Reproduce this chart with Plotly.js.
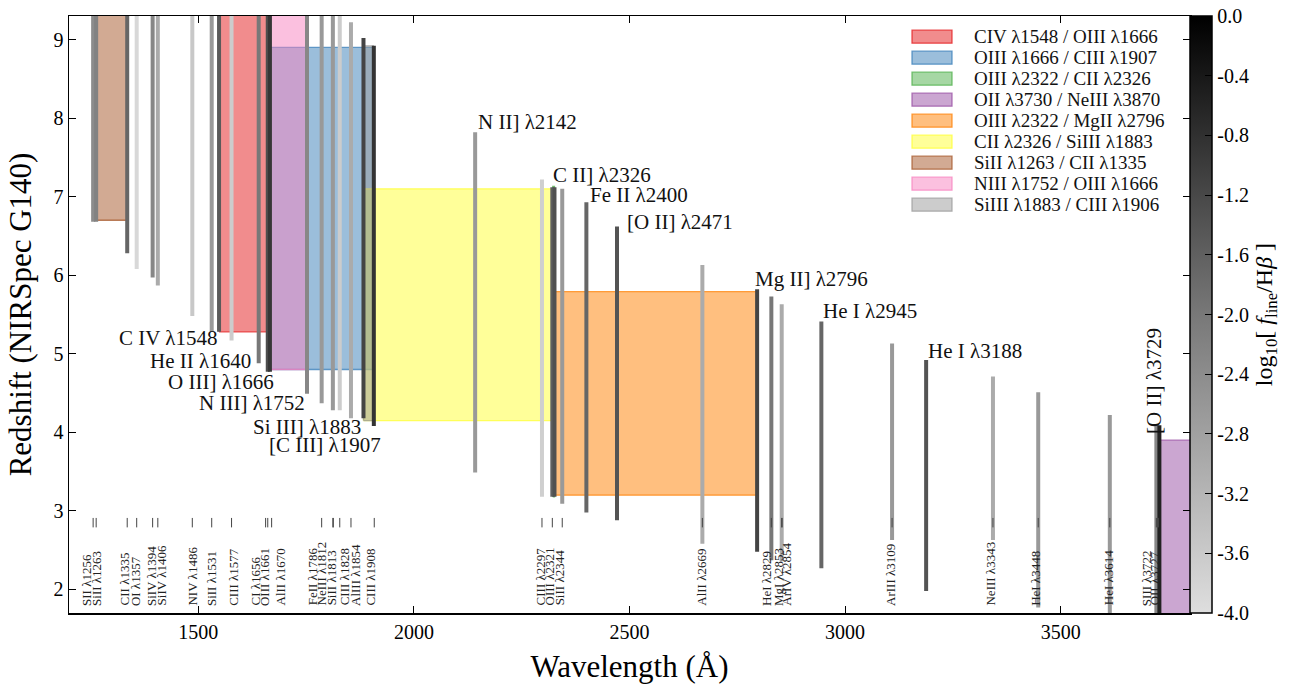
<!DOCTYPE html>
<html>
<head>
<meta charset="utf-8">
<script src="https://cdn.plot.ly/plotly-3.0.1.min.js"></script>
<style>html,body{margin:0;padding:0;background:#fff;}#chart{width:1301px;height:684px;}</style>
</head>
<body>
<div id="chart"></div>
<script>
// ---------- emission lines drawn as vertical bars ----------
const barWave = [1256, 1263, 1335, 1357, 1394, 1406, 1486, 1531, 1548, 1577, 1640, 1661, 1666, 1752, 1786, 1812, 1828, 1854, 1883, 1907,
                 2142, 2297, 2321, 2326, 2344, 2400, 2471, 2669, 2796, 2829, 2853, 2945, 3109, 3188, 3343, 3448, 3614, 3722, 3729];
const barZmin = [6.68, 6.68, 6.28, 6.08, 5.97, 5.87, 5.48, 5.28, 5.28, 5.17, 4.88, 4.77, 4.77, 4.49, 4.37, 4.28, 4.28, 4.18, 4.18, 4.08,
                 3.49, 3.18, 3.18, 3.18, 3.09, 2.98, 2.88, 2.58, 2.48, 2.37, 2.36, 2.27, 2.63, 1.98, 2.63, 1.77, 1.66, 1.58, 1.57];
const barZmax = [14.0, 13.9, 13.2, 12.9, 12.6, 12.5, 11.7, 11.3, 11.2, 11.0, 10.5, 10.4, 10.3, 9.8, 9.6, 9.4, 9.35, 9.22, 9.02, 8.92,
                 7.82, 7.22, 7.12, 7.12, 7.10, 6.93, 6.62, 6.13, 5.82, 5.73, 5.63, 5.41, 5.13, 4.92, 4.71, 4.51, 4.22, 4.10, 4.09];
const barFlux = [-2.4, -2.2, -1.7, -3.88, -2.3, -3.0, -3.57, -2.65, -1.5, -3.65, -2.0, -1.3, -0.9, -2.3, -2.65, -2.65, -3.65, -3.0, -1.13, -0.85,
                 -2.65, -3.7, -1.6, -1.35, -2.65, -1.7, -1.4, -3.0, -1.13, -2.0, -3.0, -1.7, -2.65, -1.4, -3.0, -2.65, -2.65, -2.3, -0.57];

// ---------- weak lines: short ticks + rotated labels ----------
const weakWave = [1256, 1263, 1335, 1357, 1394, 1406, 1486, 1531, 1577, 1656, 1661, 1670, 1786, 1812, 1813, 1828, 1854, 1908,
                  2297, 2321, 2344, 2669, 2829, 2853, 2854, 3109, 3343, 3448, 3614, 3722, 3727];
const weakName = ["SII", "SiII", "CII", "OI", "SiIV", "SiIV", "NIV", "SiII", "CIII", "CI", "OIII", "AlII", "FeII", "NeIII", "SiII", "CIII", "AlIII", "CIII",
                  "CIII", "OIII", "SiII", "AlII", "HeI", "MgI", "ArIV", "ArIII", "NeIII", "HeI", "HeI", "SIII", "OII"];
const weakTickZ = [2.79, 2.91];
// label placement (wavelength coordinate of each rotated label column)
const weakLabelX = [1240, 1262, 1328, 1354, 1391, 1415, 1486, 1529, 1583, 1632, 1653, 1690, 1765, 1786, 1808, 1838, 1864, 1899,
                    2294, 2315, 2338, 2667, 2816, 2845, 2864, 3107, 3338, 3442, 3611, 3699, 3718];

// ---------- strong line labels ----------
const strongText = ["C IV λ1548", "He II λ1640", "O III] λ1666", "N III] λ1752", "Si III] λ1883", "[C III] λ1907",
                    "N II] λ2142", "C II] λ2326", "Fe II λ2400", "[O II] λ2471", "Mg II] λ2796", "He I λ2945", "He I λ3188", "[O II] λ3729"];
const strongX = [1548, 1626, 1680, 1751, 1882, 1928, 2144, 2319, 2403, 2489, 2786, 2944, 3187, 3718];
const strongZ = [5.20, 4.91, 4.64, 4.37, 4.07, 3.84, 7.95, 7.27, 7.02, 6.68, 5.95, 5.55, 5.04, 3.95];
const strongSide = ["right", "right", "right", "right", "right", "right", "left", "left", "left", "left", "left", "left", "left", "rot"];

// ---------- line-ratio redshift windows ----------
const boxName = ["CIV λ1548 / OIII λ1666", "OIII λ1666 / CIII λ1907", "OIII λ2322 / CII λ2326", "OII λ3730 / NeIII λ3870",
                 "OIII λ2322 / MgII λ2796", "CII λ2326 / SiIII λ1883", "SiII λ1263 / CII λ1335", "NIII λ1752 / OIII λ1666",
                 "SiIII λ1883 / CIII λ1906"];
const boxX0 = [1548, 1666, 2322, 3730, 2322, 1883, 1263, 1666, 1883];
const boxX1 = [1666, 1907, 2326, 3870, 2796, 2326, 1335, 1752, 1906];
const boxZ0 = [5.28, 4.80, 3.18, 1.60, 3.20, 4.15, 6.70, 4.80, 4.15];
const boxZ1 = [10.3, 8.90, 7.13, 3.90, 5.79, 7.10, 13.2, 9.79, 8.92];
const boxColor = [[228,26,28],[55,126,184],[77,175,74],[152,78,163],[255,127,0],[255,255,51],[166,86,40],[247,129,191],[153,153,153]];

// colorbar ticks
const cbTickVals = [0.0, -0.4, -0.8, -1.2, -1.6, -2.0, -2.4, -2.8, -3.2, -3.6, -4.0];
const cbTickText = ["0.0", "-0.4", "-0.8", "-1.2", "-1.6", "-2.0", "-2.4", "-2.8", "-3.2", "-3.6", "-4.0"];
const xTickVals = [1500, 2000, 2500, 3000, 3500];
const yTickVals = [2, 3, 4, 5, 6, 7, 8, 9];

const FONT = "Liberation Serif, Times New Roman, serif";
const cmin = -4, cmax = 0;
const greyScale = [[0, [222,222,222]], [0.5, [120,120,120]], [1, [0,0,0]]];
function greyOf(v) {
  let t = (v - cmin) / (cmax - cmin);
  t = Math.max(0, Math.min(1, t));
  for (let i = 0; i < greyScale.length - 1; i++) {
    const a = greyScale[i], b = greyScale[i + 1];
    if (t >= a[0] && t <= b[0]) {
      const f = (t - a[0]) / (b[0] - a[0]);
      const c = a[1].map((q, k) => Math.round(q + f * (b[1][k] - q)));
      return `rgb(${c[0]},${c[1]},${c[2]})`;
    }
  }
  return 'rgb(0,0,0)';
}
const rgba = (c, a) => `rgba(${c[0]},${c[1]},${c[2]},${a})`;

const traces = [];
// boxes
for (let i = 0; i < boxName.length; i++) {
  const c = boxColor[i];
  traces.push({
    type: 'scatter', mode: 'lines',
    x: [boxX0[i], boxX1[i], boxX1[i], boxX0[i], boxX0[i]],
    y: [boxZ0[i], boxZ0[i], boxZ1[i], boxZ1[i], boxZ0[i]],
    fill: 'toself', fillcolor: rgba(c, 0.5),
    line: {color: rgba(c, 0.75), width: 1.3},
    name: boxName[i], showlegend: false, hoverinfo: 'skip'
  });
}
// bars
for (let i = 0; i < barWave.length; i++) {
  traces.push({
    type: 'scatter', mode: 'lines',
    x: [barWave[i], barWave[i]],
    y: [barZmin[i], barZmax[i]],
    line: {color: greyOf(barFlux[i]), width: 4},
    showlegend: false, hoverinfo: 'skip'
  });
}
// weak-line ticks
const tx = [], ty = [];
weakWave.forEach(w => { tx.push(w, w, null); ty.push(weakTickZ[0], weakTickZ[1], null); });
traces.push({type: 'scatter', mode: 'lines', x: tx, y: ty, line: {color: '#444', width: 1}, showlegend: false, hoverinfo: 'skip'});
// colorbar carrier
traces.push({
  type: 'scatter', mode: 'markers', x: [1000, 1000], y: [0, 0], showlegend: false, hoverinfo: 'skip',
  marker: {
    color: [cmin, cmax], cmin: cmin, cmax: cmax, size: 1,
    colorscale: greyScale.map(s => [s[0], `rgb(${s[1][0]},${s[1][1]},${s[1][2]})`]),
    showscale: true,
    colorbar: {
      x: 1.0, xanchor: 'left', xpad: 0, y: 0.5, yanchor: 'middle', ypad: 0, len: 1, lenmode: 'fraction',
      thickness: 22, thicknessmode: 'pixels', outlinewidth: 1.5, outlinecolor: '#000',
      ticks: 'inside', ticklen: 7, tickcolor: '#000', tickwidth: 1,
      tickvals: cbTickVals, ticktext: cbTickText, tickfont: {family: FONT, size: 20, color: '#000'},
      title: {text: 'log<sub>10</sub>[ <i>f</i><sub>line</sub>/H<i>β</i> ]', side: 'right', font: {family: FONT, size: 24, color: '#000'}}
    }
  }
});

const annotations = [];
for (let i = 0; i < strongText.length; i++) {
  const side = strongSide[i];
  const a = {x: strongX[i], y: strongZ[i], xref: 'x', yref: 'y', text: strongText[i], showarrow: false,
             font: {family: FONT, size: 21, color: '#111'}};
  if (side === 'right') { a.xanchor = 'right'; a.yanchor = 'middle'; }
  else if (side === 'left') { a.xanchor = 'left'; a.yanchor = 'middle'; }
  else { a.textangle = -90; a.xanchor = 'center'; a.yanchor = 'bottom'; }
  annotations.push(a);
}
for (let i = 0; i < weakWave.length; i++) {
  annotations.push({x: weakLabelX[i], y: 1.78, xref: 'x', yref: 'y', text: weakName[i] + ' λ' + weakWave[i],
    showarrow: false, textangle: -90, xanchor: 'center', yanchor: 'bottom', borderpad: 0,
    font: {family: FONT, size: 13, color: '#222'}});
}

// ---------- hand-built legend (pixel layout of the plot area) ----------
const PL = 69, PW = 1121, PT = 16, PH = 597;
const px2x = p => (p - PL) / PW, px2y = p => 1 - (p - PT) / PH;
const shapes = [];
for (let i = 0; i < boxName.length; i++) {
  const cy = 36.7 + 21 * i;
  shapes.push({type: 'rect', xref: 'paper', yref: 'paper',
    x0: px2x(912), x1: px2x(952), y0: px2y(cy + 6.5), y1: px2y(cy - 6.5),
    fillcolor: rgba(boxColor[i], 0.5), line: {color: rgba(boxColor[i], 0.75), width: 1.3}});
  annotations.push({xref: 'paper', yref: 'paper', x: px2x(972), y: px2y(cy), xanchor: 'left', yanchor: 'middle',
    text: boxName[i], showarrow: false, font: {family: FONT, size: 19, color: '#111'}});
}

const axisCommon = {showline: true, linecolor: '#000', linewidth: 1.5, mirror: 'allticks', ticks: 'inside',
  ticklen: 7, tickwidth: 1, tickcolor: '#000', showgrid: false, zeroline: false,
  tickfont: {family: FONT, size: 20, color: '#000'}};

const layout = {
  width: 1301, height: 684,
  margin: {l: 69, r: 111, t: 16, b: 71},
  paper_bgcolor: '#fff', plot_bgcolor: '#fff',
  font: {family: FONT, color: '#000'},
  showlegend: false,
  xaxis: Object.assign({}, axisCommon, {range: [1200, 3800], tickvals: xTickVals,
    title: {text: 'Wavelength (Å)', font: {family: FONT, size: 31, color: '#000'}, standoff: 14}}),
  yaxis: Object.assign({}, axisCommon, {range: [1.7, 9.3], tickvals: yTickVals,
    title: {text: 'Redshift (NIRSpec G140)', font: {family: FONT, size: 31, color: '#000'}, standoff: 12}}),
  shapes: shapes,
  annotations: annotations
};

Plotly.newPlot('chart', traces, layout, {displayModeBar: false, staticPlot: true});
</script>
</body>
</html>
